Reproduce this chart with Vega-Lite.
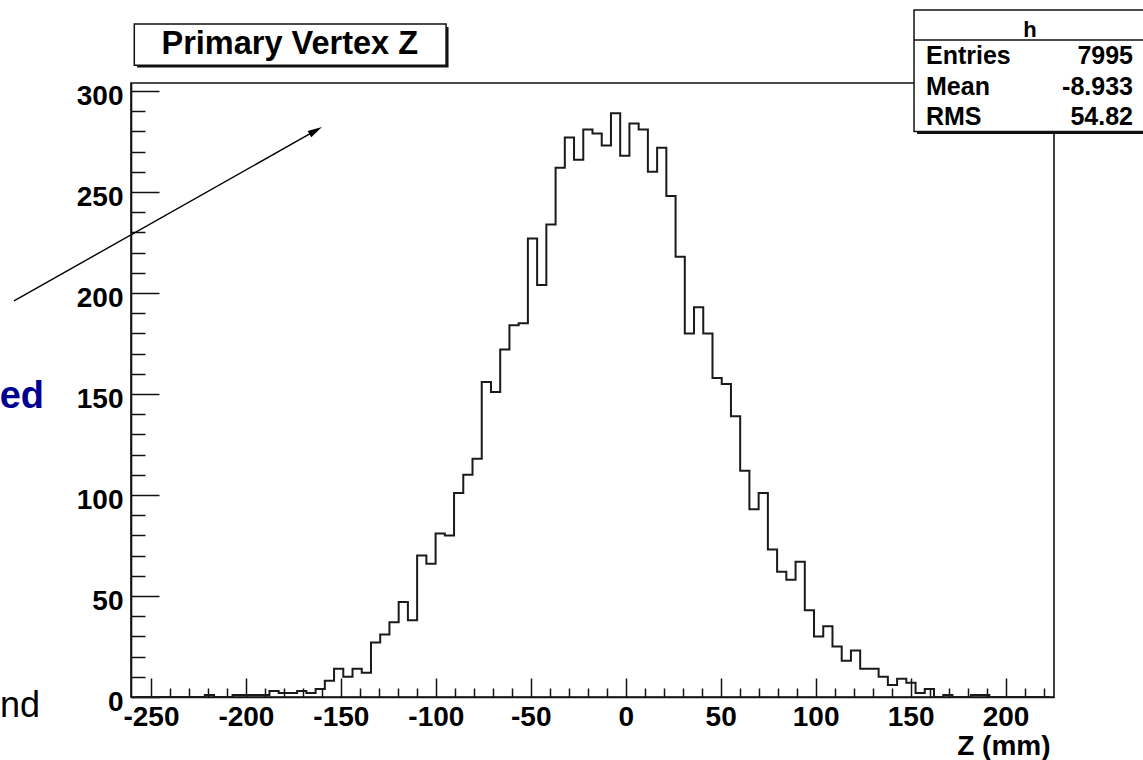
{
  "$schema": "https://vega.github.io/schema/vega-lite/v6.json",
  "width": 923,
  "height": 614,
  "autosize": {"type": "none"},
  "padding": {"left": 131, "top": 83, "right": 89, "bottom": 63},
  "background": "white",
  "config": {"view": {"stroke": "#111", "strokeWidth": 1.6}, "font": "Liberation Sans"},
  "datasets": {
    "hist": [
      {"z": -258.07, "count": 0}, {"z": -253.21, "count": 0}, {"z": -248.35, "count": 0}, {"z": -243.49, "count": 0},
      {"z": -238.63, "count": 0}, {"z": -233.77, "count": 0}, {"z": -228.91, "count": 0}, {"z": -224.05, "count": 0},
      {"z": -219.19, "count": 1}, {"z": -214.33, "count": 0}, {"z": -209.47, "count": 0}, {"z": -204.61, "count": 1},
      {"z": -199.75, "count": 1}, {"z": -194.89, "count": 1}, {"z": -190.03, "count": 1}, {"z": -185.17, "count": 3},
      {"z": -180.31, "count": 2}, {"z": -175.45, "count": 2}, {"z": -170.59, "count": 3}, {"z": -165.73, "count": 2},
      {"z": -160.87, "count": 4}, {"z": -156.01, "count": 8}, {"z": -151.15, "count": 14}, {"z": -146.29, "count": 10},
      {"z": -141.43, "count": 14}, {"z": -136.57, "count": 12}, {"z": -131.71, "count": 27}, {"z": -126.85, "count": 31},
      {"z": -121.99, "count": 37}, {"z": -117.13, "count": 47}, {"z": -112.27, "count": 38}, {"z": -107.41, "count": 70},
      {"z": -102.55, "count": 66}, {"z": -97.69, "count": 81}, {"z": -92.83, "count": 80}, {"z": -87.97, "count": 101},
      {"z": -83.11, "count": 110}, {"z": -78.25, "count": 118}, {"z": -73.39, "count": 156}, {"z": -68.53, "count": 151},
      {"z": -63.67, "count": 172}, {"z": -58.81, "count": 184}, {"z": -53.95, "count": 185}, {"z": -49.09, "count": 227},
      {"z": -44.23, "count": 204}, {"z": -39.37, "count": 234}, {"z": -34.51, "count": 262}, {"z": -29.65, "count": 277},
      {"z": -24.79, "count": 266}, {"z": -19.93, "count": 281}, {"z": -15.07, "count": 279}, {"z": -10.21, "count": 273},
      {"z": -5.35, "count": 289}, {"z": -0.49, "count": 268}, {"z": 4.37, "count": 284}, {"z": 9.23, "count": 281},
      {"z": 14.09, "count": 260}, {"z": 18.95, "count": 272}, {"z": 23.81, "count": 248}, {"z": 28.67, "count": 218},
      {"z": 33.53, "count": 180}, {"z": 38.39, "count": 193}, {"z": 43.25, "count": 180}, {"z": 48.11, "count": 158},
      {"z": 52.97, "count": 155}, {"z": 57.83, "count": 139}, {"z": 62.69, "count": 112}, {"z": 67.55, "count": 93},
      {"z": 72.41, "count": 101}, {"z": 77.27, "count": 73}, {"z": 82.13, "count": 62}, {"z": 86.99, "count": 58},
      {"z": 91.85, "count": 67}, {"z": 96.71, "count": 43}, {"z": 101.57, "count": 30}, {"z": 106.43, "count": 35},
      {"z": 111.29, "count": 25}, {"z": 116.15, "count": 18}, {"z": 121.01, "count": 23}, {"z": 125.87, "count": 14},
      {"z": 130.73, "count": 14}, {"z": 135.59, "count": 10}, {"z": 140.45, "count": 6}, {"z": 145.31, "count": 9},
      {"z": 150.17, "count": 7}, {"z": 155.03, "count": 2}, {"z": 159.89, "count": 4}, {"z": 164.75, "count": 0},
      {"z": 169.61, "count": 1}, {"z": 174.47, "count": 0}, {"z": 179.33, "count": 0}, {"z": 184.19, "count": 1},
      {"z": 189.05, "count": 1}, {"z": 193.91, "count": 0}, {"z": 198.77, "count": 0}, {"z": 203.63, "count": 0},
      {"z": 208.49, "count": 0}, {"z": 213.35, "count": 0}, {"z": 218.21, "count": 0}, {"z": 223.07, "count": 0}
    ]
  },
  "resolve": {"axis": {"x": "independent", "y": "independent"}},
  "layer": [
    {
      "data": {"name": "hist"},
      "mark": {"type": "line", "interpolate": "step", "color": "#1a1a1a", "strokeWidth": 2},
      "encoding": {
        "x": {
          "field": "z", "type": "quantitative",
          "scale": {"domain": [-260.5, 225.5], "nice": false, "zero": false},
          "axis": {
            "orient": "bottom",
            "values": [-250, -200, -150, -100, -50, 0, 50, 100, 150, 200],
            "labelExpr": "'' + datum.value",
            "tickSize": -19, "tickWidth": 1.5, "tickColor": "#111",
            "domain": true, "domainColor": "#111", "domainWidth": 1.6,
            "grid": false,
            "labelFont": "Liberation Sans", "labelFontWeight": "bold", "labelFontSize": 28, "labelColor": "#000",
            "labelPadding": 47.5, "labelBaseline": "alphabetic", "labelFlush": false, "labelOverlap": false,
            "title": "Z (mm)", "titleFont": "Liberation Sans", "titleFontSize": 28, "titleFontWeight": "bold", "titleColor": "#000",
            "titleAlign": "right", "titleAnchor": "end", "titleX": 919, "titleY": 57, "titleBaseline": "alphabetic"
          }
        },
        "y": {
          "field": "count", "type": "quantitative",
          "scale": {"domain": [0, 304], "nice": false, "zero": false},
          "axis": {
            "orient": "left",
            "values": [0, 50, 100, 150, 200, 250, 300],
            "tickSize": -28, "tickWidth": 1.5, "tickColor": "#111",
            "domain": true, "domainColor": "#111", "domainWidth": 1.6,
            "grid": false,
            "labelFont": "Liberation Sans", "labelFontWeight": "bold", "labelFontSize": 28, "labelColor": "#000",
            "labelPadding": 36, "labelBaseline": "alphabetic", "labelOffset": 13, "labelAlign": "right",
            "labelFlush": false, "labelOverlap": false,
            "title": null
          }
        }
      }
    },
    {
      "data": {"name": "hist"},
      "mark": {"type": "line", "strokeOpacity": 0},
      "encoding": {
        "x": {
          "field": "z", "type": "quantitative",
          "scale": {"domain": [-260.5, 225.5], "nice": false, "zero": false},
          "axis": {
            "orient": "bottom",
            "values": [-240, -230, -220, -210, -190, -180, -170, -160, -140, -130, -120, -110, -90, -80, -70, -60, -40, -30, -20, -10, 10, 20, 30, 40, 60, 70, 80, 90, 110, 120, 130, 140, 160, 170, 180, 190, 210, 220],
            "tickSize": -9, "tickWidth": 1.5, "tickColor": "#111",
            "domain": false, "labels": false, "grid": false, "title": null
          }
        },
        "y": {
          "field": "count", "type": "quantitative",
          "scale": {"domain": [0, 304], "nice": false, "zero": false},
          "axis": {
            "orient": "left",
            "values": [10, 20, 30, 40, 60, 70, 80, 90, 110, 120, 130, 140, 160, 170, 180, 190, 210, 220, 230, 240, 260, 270, 280, 290],
            "tickSize": -14, "tickWidth": 1.5, "tickColor": "#111",
            "domain": false, "labels": false, "grid": false, "title": null
          }
        }
      }
    },
    {
      "data": {"values": [
        {"x0": -257.3, "x1": -93.3, "y0": 311.7, "y1": 331.7},
        {"x0": 153.4, "x1": 275.6, "y0": 278.8, "y1": 338.7}
      ]},
      "mark": {"type": "rect", "fill": "#111"},
      "encoding": {
        "x": {"field": "x0", "type": "quantitative", "scale": {"domain": [-260.5, 225.5], "nice": false, "zero": false}, "axis": null},
        "x2": {"field": "x1"},
        "y": {"field": "y0", "type": "quantitative", "scale": {"domain": [0, 304], "nice": false, "zero": false}, "axis": null},
        "y2": {"field": "y1"}
      }
    },
    {
      "data": {"values": [
        {"x0": -258.76, "x1": -94.6, "y0": 312.8, "y1": 333.2},
        {"x0": 151.8, "x1": 274, "y0": 280.0, "y1": 340.1}
      ]},
      "mark": {"type": "rect", "fill": "white", "stroke": "#111", "strokeWidth": 1.5},
      "encoding": {
        "x": {"field": "x0", "type": "quantitative", "scale": {"domain": [-260.5, 225.5], "nice": false, "zero": false}, "axis": null},
        "x2": {"field": "x1"},
        "y": {"field": "y0", "type": "quantitative", "scale": {"domain": [0, 304], "nice": false, "zero": false}, "axis": null},
        "y2": {"field": "y1"}
      }
    },
    {
      "data": {"values": [{"x0": 151.8, "x1": 274, "y": 325.3}]},
      "mark": {"type": "rule", "color": "#111", "strokeWidth": 1.5},
      "encoding": {
        "x": {"field": "x0", "type": "quantitative", "scale": {"domain": [-260.5, 225.5], "nice": false, "zero": false}, "axis": null},
        "x2": {"field": "x1"},
        "y": {"field": "y", "type": "quantitative", "scale": {"domain": [0, 304], "nice": false, "zero": false}, "axis": null}
      }
    },
    {
      "data": {"values": [{"label": "Primary Vertex Z", "x": -176.9, "y": 318.2}]},
      "mark": {"type": "text", "font": "Liberation Sans", "fontWeight": "bold", "fontSize": 32.5, "align": "center", "baseline": "alphabetic", "color": "#000"},
      "encoding": {
        "x": {"field": "x", "type": "quantitative", "scale": {"domain": [-260.5, 225.5], "nice": false, "zero": false}, "axis": null},
        "y": {"field": "y", "type": "quantitative", "scale": {"domain": [0, 304], "nice": false, "zero": false}, "axis": null},
        "text": {"field": "label"}
      }
    },
    {
      "data": {"values": [{"label": "h", "x": 212.9, "y": 326.6}]},
      "mark": {"type": "text", "font": "Liberation Sans", "fontWeight": "bold", "fontSize": 22, "align": "center", "baseline": "alphabetic", "color": "#000"},
      "encoding": {
        "x": {"field": "x", "type": "quantitative", "scale": {"domain": [-260.5, 225.5], "nice": false, "zero": false}, "axis": null},
        "y": {"field": "y", "type": "quantitative", "scale": {"domain": [0, 304], "nice": false, "zero": false}, "axis": null},
        "text": {"field": "label"}
      }
    },
    {
      "data": {"values": [
        {"label": "Entries", "x": 158.1, "y": 313.4},
        {"label": "Mean", "x": 158.1, "y": 298.1},
        {"label": "RMS", "x": 158.1, "y": 283.2}
      ]},
      "mark": {"type": "text", "font": "Liberation Sans", "fontWeight": "bold", "fontSize": 25, "align": "left", "baseline": "alphabetic", "color": "#000"},
      "encoding": {
        "x": {"field": "x", "type": "quantitative", "scale": {"domain": [-260.5, 225.5], "nice": false, "zero": false}, "axis": null},
        "y": {"field": "y", "type": "quantitative", "scale": {"domain": [0, 304], "nice": false, "zero": false}, "axis": null},
        "text": {"field": "label"}
      }
    },
    {
      "data": {"values": [
        {"label": "7995", "x": 267.1, "y": 313.4},
        {"label": "-8.933", "x": 267.1, "y": 298.1},
        {"label": "54.82", "x": 267.1, "y": 283.2}
      ]},
      "mark": {"type": "text", "font": "Liberation Sans", "fontWeight": "bold", "fontSize": 25, "align": "right", "baseline": "alphabetic", "color": "#000"},
      "encoding": {
        "x": {"field": "x", "type": "quantitative", "scale": {"domain": [-260.5, 225.5], "nice": false, "zero": false}, "axis": null},
        "y": {"field": "y", "type": "quantitative", "scale": {"domain": [0, 304], "nice": false, "zero": false}, "axis": null},
        "text": {"field": "label"}
      }
    },
    {
      "data": {"values": [{"label": "ed", "x": -306.3, "y": 143.1}]},
      "mark": {"type": "text", "font": "Liberation Sans", "fontWeight": "bold", "fontSize": 38, "align": "right", "baseline": "alphabetic", "color": "#000090"},
      "encoding": {
        "x": {"field": "x", "type": "quantitative", "scale": {"domain": [-260.5, 225.5], "nice": false, "zero": false}, "axis": null},
        "y": {"field": "y", "type": "quantitative", "scale": {"domain": [0, 304], "nice": false, "zero": false}, "axis": null},
        "text": {"field": "label"}
      }
    },
    {
      "data": {"values": [{"label": "nd", "x": -308.4, "y": -9.9}]},
      "mark": {"type": "text", "font": "Liberation Sans", "fontWeight": "normal", "fontSize": 36, "align": "right", "baseline": "alphabetic", "color": "#000"},
      "encoding": {
        "x": {"field": "x", "type": "quantitative", "scale": {"domain": [-260.5, 225.5], "nice": false, "zero": false}, "axis": null},
        "y": {"field": "y", "type": "quantitative", "scale": {"domain": [0, 304], "nice": false, "zero": false}, "axis": null},
        "text": {"field": "label"}
      }
    },
    {
      "data": {"values": [{"x0": -322.1, "y0": 196.1, "x1": -163.6, "y1": 280.3}]},
      "mark": {"type": "rule", "color": "#000", "strokeWidth": 1.4},
      "encoding": {
        "x": {"field": "x0", "type": "quantitative", "scale": {"domain": [-260.5, 225.5], "nice": false, "zero": false}, "axis": null},
        "y": {"field": "y0", "type": "quantitative", "scale": {"domain": [0, 304], "nice": false, "zero": false}, "axis": null},
        "x2": {"field": "x1"},
        "y2": {"field": "y1"}
      }
    },
    {
      "data": {"values": [{"x": -163.6, "y": 280.3}]},
      "mark": {"type": "point", "shape": "M0,-1L0.45,0.8L-0.45,0.8Z", "filled": true, "size": 256, "angle": 60.5, "color": "#000", "opacity": 1},
      "encoding": {
        "x": {"field": "x", "type": "quantitative", "scale": {"domain": [-260.5, 225.5], "nice": false, "zero": false}, "axis": null},
        "y": {"field": "y", "type": "quantitative", "scale": {"domain": [0, 304], "nice": false, "zero": false}, "axis": null}
      }
    }
  ]
}
